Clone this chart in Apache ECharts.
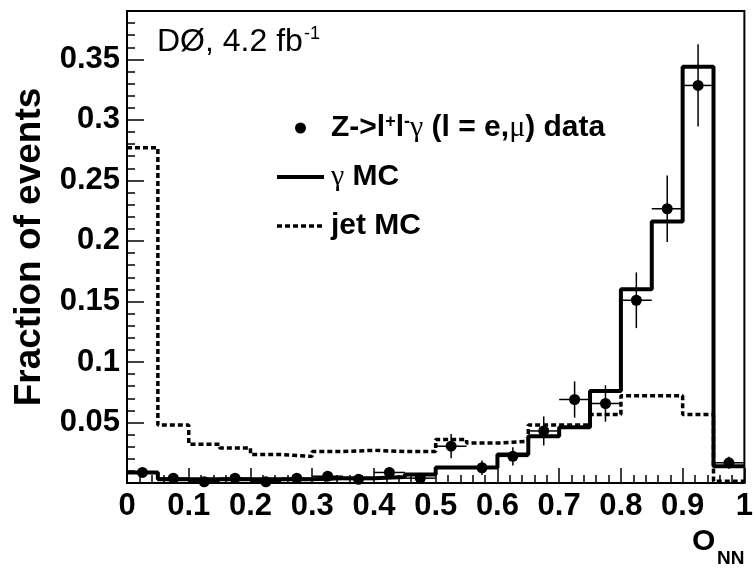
<!DOCTYPE html>
<html>
<head>
<meta charset="utf-8">
<script src="https://cdn.jsdelivr.net/npm/echarts@6/dist/echarts.min.js"></script>
<style>html,body{margin:0;padding:0;background:#fff;}#c{width:756px;height:571px;}</style>
</head>
<body>
<div id="c"></div>
<script>
// Bin edges of O_NN (20 bins of width 0.05)
const binEdges = [0, 0.05, 0.1, 0.15, 0.2, 0.25, 0.3, 0.35, 0.4, 0.45, 0.5, 0.55, 0.6, 0.65, 0.7, 0.75, 0.8, 0.85, 0.9, 0.95, 1.0];
const binCenters = [0.025, 0.075, 0.125, 0.175, 0.225, 0.275, 0.325, 0.375, 0.425, 0.475, 0.525, 0.575, 0.625, 0.675, 0.725, 0.775, 0.825, 0.875, 0.925, 0.975];
const binHalfWidth = 0.025;
// gamma MC histogram (solid)
const gammaMC = [0.0087, 0.003, 0.003, 0.003, 0.003, 0.003, 0.004, 0.004, 0.005, 0.007, 0.0128, 0.0128, 0.0236, 0.0387, 0.046, 0.076, 0.160, 0.216, 0.344, 0.0139];
// jet MC histogram (dashed)
const jetMC = [0.277, 0.048, 0.032, 0.029, 0.0235, 0.022, 0.026, 0.027, 0.026, 0.026, 0.036, 0.033, 0.0345, 0.048, 0.048, 0.0566, 0.072, 0.072, 0.0566, 0.0015];
// Z->llgamma data points with errors
const dataY = [0.0087, 0.004, 0.001, 0.004, 0.001, 0.004, 0.0056, 0.003, 0.0087, 0.004, 0.0304, 0.0126, 0.022, 0.043, 0.069, 0.0657, 0.151, 0.2266, 0.3285, 0.0167];
const dataErr = [0.004, 0.003, 0.002, 0.003, 0.002, 0.003, 0.003, 0.003, 0.004, 0.003, 0.010, 0.006, 0.0075, 0.012, 0.015, 0.015, 0.023, 0.0275, 0.034, 0.005];
// axis ticks
const xTickLabels = ['0', '0.1', '0.2', '0.3', '0.4', '0.5', '0.6', '0.7', '0.8', '0.9', '1'];
const yTickLabels = ['0.05', '0.1', '0.15', '0.2', '0.25', '0.3', '0.35'];

function stepData(vals) {
  return binEdges.map((e, i) => [e, vals[Math.min(i, vals.length - 1)]]);
}

const FONT = 'Liberation Sans';
const chart = echarts.init(document.getElementById('c'), null, {renderer: 'canvas'});

const legendLabels = {
  'data': '{n|Z->l}{sup|+}{n|l}{sup|-}{g|γ}{n| (l = e,}{g|μ}{n|) data}',
  'γ MC': '{g|γ}{n| MC}',
  'jet MC': '{n|jet MC}'
};

chart.setOption({
  animation: false,
  backgroundColor: '#fff',
  grid: {left: 127, right: 8, top: 11, bottom: 88, show: true, borderColor: '#000', borderWidth: 2, backgroundColor: 'transparent'},
  xAxis: {
    type: 'value', min: 0, max: 1, interval: 0.1,
    axisLine: {show: true, lineStyle: {color: '#000', width: 2}},
    axisTick: {show: true, inside: true, length: 15, lineStyle: {color: '#000', width: 1.5}},
    minorTick: {show: true, splitNumber: 5, length: 8, lineStyle: {color: '#000', width: 1.5}},
    splitLine: {show: false},
    axisLabel: {
      margin: 8, color: '#000', fontFamily: FONT, fontWeight: 'bold', fontSize: 31,
      formatter: v => { const k = Math.round(v * 10); return xTickLabels[k] !== undefined ? xTickLabels[k] : ''; }
    }
  },
  yAxis: {
    type: 'value', min: 0, max: 0.39, interval: 0.05,
    axisLine: {show: true, lineStyle: {color: '#000', width: 2}},
    axisTick: {show: true, inside: true, length: 17, lineStyle: {color: '#000', width: 1.5}},
    minorTick: {show: true, splitNumber: 5, length: 8, lineStyle: {color: '#000', width: 1.5}},
    splitLine: {show: false},
    axisLabel: {
      margin: 7, color: '#000', fontFamily: FONT, fontWeight: 'bold', fontSize: 31,
      showMaxLabel: false,
      formatter: v => { const k = Math.round(v * 20); return (Math.abs(v * 20 - k) < 1e-6 && k >= 1 && k <= yTickLabels.length) ? yTickLabels[k - 1] : ''; }
    }
  },
  legend: {
    orient: 'vertical', left: 275, top: 113, padding: 0, itemWidth: 47, itemHeight: 11, itemGap: 19,
    selectedMode: false,
    lineStyle: {width: 'inherit'},
    data: [
      {name: 'data', icon: 'circle'},
      {name: 'γ MC', itemStyle: {opacity: 0, borderWidth: 0}},
      {name: 'jet MC', itemStyle: {opacity: 0, borderWidth: 0}}
    ],
    formatter: name => legendLabels[name],
    textStyle: {
      color: '#000', fontFamily: FONT, fontWeight: 'bold', fontSize: 30, lineHeight: 30, padding: [0, 0, 0, 2],
      rich: {
        n: {fontFamily: FONT, fontWeight: 'bold', fontSize: 30, lineHeight: 30, color: '#000'},
        sup: {fontFamily: FONT, fontWeight: 'bold', fontSize: 18, lineHeight: 30, verticalAlign: 'top', color: '#000'},
        g: {fontFamily: 'Liberation Serif', fontWeight: 'normal', fontSize: 30, lineHeight: 30, color: '#000'}
      }
    }
  },
  series: [
    {
      name: 'jet MC', type: 'line', step: 'end', symbol: 'none', data: stepData(jetMC),
      lineStyle: {color: '#000', width: 3.5, type: [5, 3]}, itemStyle: {color: '#000'}, z: 2
    },
    {
      name: 'γ MC', type: 'line', step: 'end', symbol: 'none', data: stepData(gammaMC),
      lineStyle: {color: '#000', width: 4}, itemStyle: {color: '#000'}, z: 3
    },
    {
      name: 'errors', type: 'custom', clip: true, z: 4,
      data: binCenters.map((x, i) => [x, dataY[i], dataErr[i], binHalfWidth]),
      renderItem: function (params, api) {
        const x = api.value(0), y = api.value(1), e = api.value(2), hw = api.value(3);
        const c = api.coord([x, y]);
        const t = api.coord([x, y + e]);
        const b = api.coord([x, Math.max(0, y - e)]);
        const l = api.coord([x - hw, y]);
        const r = api.coord([x + hw, y]);
        const st = {stroke: '#000', lineWidth: 1.5};
        return {type: 'group', children: [
          {type: 'line', shape: {x1: c[0], y1: t[1], x2: c[0], y2: b[1]}, style: st},
          {type: 'line', shape: {x1: l[0], y1: c[1], x2: r[0], y2: c[1]}, style: st}
        ]};
      }
    },
    {
      name: 'data', type: 'scatter', symbol: 'circle', symbolSize: 11, z: 5,
      data: binCenters.map((x, i) => [x, dataY[i]]),
      itemStyle: {color: '#000', opacity: 1}
    }
  ],
  graphic: [
    {type: 'text', left: 157, top: 26, style: {text: 'DØ, 4.2 fb', fontFamily: FONT, fontWeight: 'normal', fontSize: 32, fill: '#000'}},
    {type: 'text', left: 304, top: 25, style: {text: '-1', fontFamily: FONT, fontWeight: 'normal', fontSize: 18, fill: '#000'}},
    {type: 'text', x: 30, y: 247, rotation: Math.PI / 2, style: {text: 'Fraction of events', fontFamily: FONT, fontWeight: 'bold', fontSize: 37, fill: '#000', align: 'center', verticalAlign: 'middle'}},
    {type: 'text', left: 692, top: 527, style: {text: 'O', fontFamily: FONT, fontWeight: 'bold', fontSize: 30, fill: '#000'}},
    {type: 'text', left: 717, top: 549, style: {text: 'NN', fontFamily: FONT, fontWeight: 'bold', fontSize: 19, fill: '#000'}}
  ]
});
</script>
</body>
</html>
